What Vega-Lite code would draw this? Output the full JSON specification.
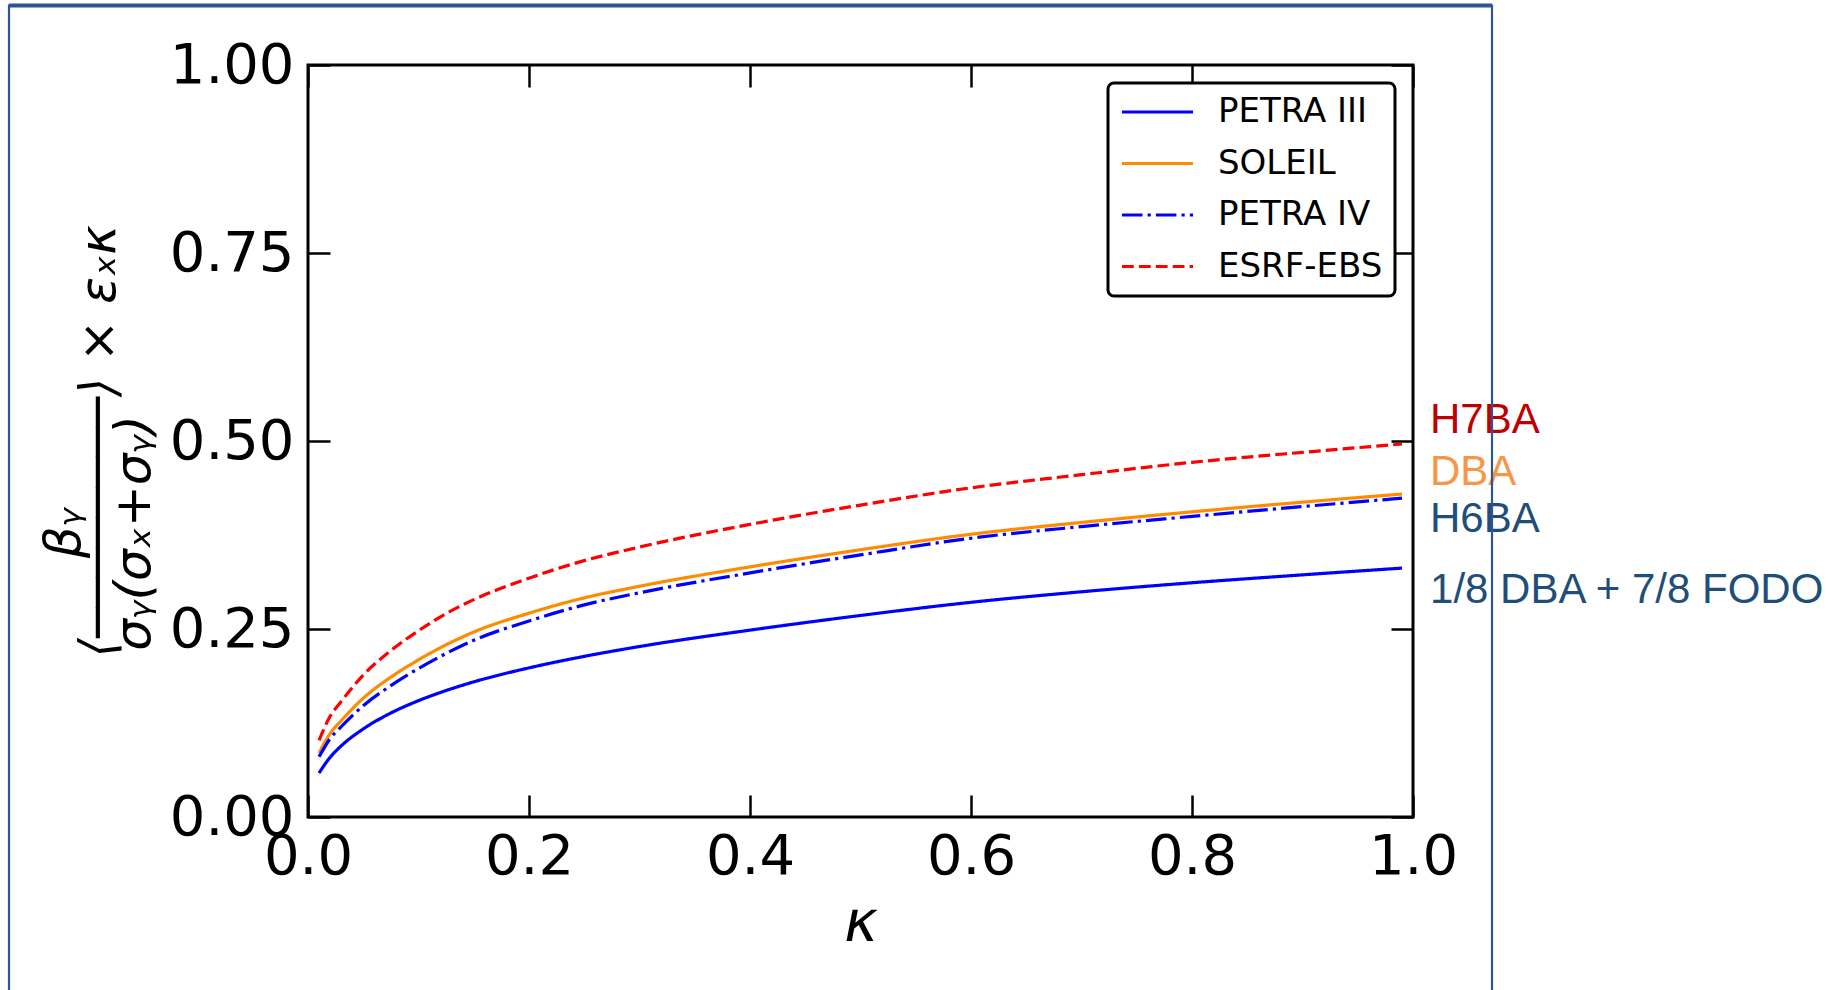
{
  "$schema": "https://vega.github.io/schema/vega-lite/v6.json",
  "width": 1105,
  "height": 752,
  "autosize": {"type": "none"},
  "padding": {"left": 308, "top": 65, "right": 430, "bottom": 173},
  "background": "white",
  "config": {
    "view": {"stroke": "black", "strokeWidth": 3},
    "font": "DejaVu Sans",
    "axis": {
      "domain": false,
      "grid": false,
      "tickColor": "black",
      "tickWidth": 2.5,
      "tickSize": -22,
      "labelFont": "DejaVu Sans",
      "labelFontSize": 56,
      "labelColor": "black",
      "labelFlush": false,
      "labelOverlap": false,
      "titleFont": "DejaVu Sans",
      "titleFontSize": 57,
      "titleColor": "black",
      "titleFontWeight": "normal",
      "titleFontStyle": "italic"
    },
    "legend": {
      "orient": "top-right",
      "offset": 18,
      "labelFont": "DejaVu Sans",
      "labelFontSize": 34,
      "labelColor": "black",
      "labelLimit": 400,
      "symbolType": "stroke",
      "symbolSize": 5041,
      "symbolStrokeWidth": 3.2,
      "labelOffset": 23,
      "padding": 12,
      "clipHeight": 34,
      "rowPadding": 17.5,
      "strokeColor": "black",
      "strokeWidth": 3,
      "cornerRadius": 6,
      "fillColor": "white"
    }
  },
  "datasets": {
    "curves": [
      {"series": "PETRA III", "k": 0.01, "v": 0.0585},
      {"series": "PETRA III", "k": 0.02, "v": 0.0794},
      {"series": "PETRA III", "k": 0.03, "v": 0.0945},
      {"series": "PETRA III", "k": 0.05, "v": 0.1171},
      {"series": "PETRA III", "k": 0.075, "v": 0.1383},
      {"series": "PETRA III", "k": 0.1, "v": 0.1547},
      {"series": "PETRA III", "k": 0.125, "v": 0.1682},
      {"series": "PETRA III", "k": 0.15, "v": 0.1797},
      {"series": "PETRA III", "k": 0.2, "v": 0.1983},
      {"series": "PETRA III", "k": 0.25, "v": 0.2136},
      {"series": "PETRA III", "k": 0.3, "v": 0.2267},
      {"series": "PETRA III", "k": 0.4, "v": 0.2485},
      {"series": "PETRA III", "k": 0.5, "v": 0.2680},
      {"series": "PETRA III", "k": 0.6, "v": 0.2855},
      {"series": "PETRA III", "k": 0.7, "v": 0.2995},
      {"series": "PETRA III", "k": 0.8, "v": 0.3115},
      {"series": "PETRA III", "k": 0.9, "v": 0.3220},
      {"series": "PETRA III", "k": 0.99, "v": 0.3310},
      {"series": "SOLEIL", "k": 0.01, "v": 0.0850},
      {"series": "SOLEIL", "k": 0.02, "v": 0.1110},
      {"series": "SOLEIL", "k": 0.03, "v": 0.1280},
      {"series": "SOLEIL", "k": 0.05, "v": 0.1580},
      {"series": "SOLEIL", "k": 0.075, "v": 0.1860},
      {"series": "SOLEIL", "k": 0.1, "v": 0.2090},
      {"series": "SOLEIL", "k": 0.125, "v": 0.2290},
      {"series": "SOLEIL", "k": 0.15, "v": 0.2460},
      {"series": "SOLEIL", "k": 0.2, "v": 0.2710},
      {"series": "SOLEIL", "k": 0.25, "v": 0.2914},
      {"series": "SOLEIL", "k": 0.3, "v": 0.3068},
      {"series": "SOLEIL", "k": 0.4, "v": 0.3326},
      {"series": "SOLEIL", "k": 0.5, "v": 0.3554},
      {"series": "SOLEIL", "k": 0.6, "v": 0.3760},
      {"series": "SOLEIL", "k": 0.7, "v": 0.3917},
      {"series": "SOLEIL", "k": 0.8, "v": 0.4058},
      {"series": "SOLEIL", "k": 0.9, "v": 0.4187},
      {"series": "SOLEIL", "k": 0.99, "v": 0.4295},
      {"series": "PETRA IV", "k": 0.01, "v": 0.0800},
      {"series": "PETRA IV", "k": 0.02, "v": 0.1042},
      {"series": "PETRA IV", "k": 0.03, "v": 0.1200},
      {"series": "PETRA IV", "k": 0.05, "v": 0.1480},
      {"series": "PETRA IV", "k": 0.075, "v": 0.1748},
      {"series": "PETRA IV", "k": 0.1, "v": 0.1975},
      {"series": "PETRA IV", "k": 0.125, "v": 0.2175},
      {"series": "PETRA IV", "k": 0.15, "v": 0.2350},
      {"series": "PETRA IV", "k": 0.2, "v": 0.2607},
      {"series": "PETRA IV", "k": 0.25, "v": 0.2821},
      {"series": "PETRA IV", "k": 0.3, "v": 0.2982},
      {"series": "PETRA IV", "k": 0.4, "v": 0.3246},
      {"series": "PETRA IV", "k": 0.5, "v": 0.3486},
      {"series": "PETRA IV", "k": 0.6, "v": 0.3707},
      {"series": "PETRA IV", "k": 0.7, "v": 0.3862},
      {"series": "PETRA IV", "k": 0.8, "v": 0.3997},
      {"series": "PETRA IV", "k": 0.9, "v": 0.4128},
      {"series": "PETRA IV", "k": 0.99, "v": 0.4240},
      {"series": "ESRF-EBS", "k": 0.01, "v": 0.1020},
      {"series": "ESRF-EBS", "k": 0.02, "v": 0.1339},
      {"series": "ESRF-EBS", "k": 0.03, "v": 0.1536},
      {"series": "ESRF-EBS", "k": 0.05, "v": 0.1888},
      {"series": "ESRF-EBS", "k": 0.075, "v": 0.2213},
      {"series": "ESRF-EBS", "k": 0.1, "v": 0.2477},
      {"series": "ESRF-EBS", "k": 0.125, "v": 0.2705},
      {"series": "ESRF-EBS", "k": 0.15, "v": 0.2890},
      {"series": "ESRF-EBS", "k": 0.2, "v": 0.3176},
      {"series": "ESRF-EBS", "k": 0.25, "v": 0.3409},
      {"series": "ESRF-EBS", "k": 0.3, "v": 0.3590},
      {"series": "ESRF-EBS", "k": 0.4, "v": 0.3891},
      {"series": "ESRF-EBS", "k": 0.5, "v": 0.4148},
      {"series": "ESRF-EBS", "k": 0.6, "v": 0.4377},
      {"series": "ESRF-EBS", "k": 0.7, "v": 0.4552},
      {"series": "ESRF-EBS", "k": 0.8, "v": 0.4716},
      {"series": "ESRF-EBS", "k": 0.9, "v": 0.4849},
      {"series": "ESRF-EBS", "k": 0.99, "v": 0.4960}
    ],
    "lattice": [
      {"lattice": "H7BA", "k": 1.0154, "v": 0.5106},
      {"lattice": "DBA", "k": 1.0154, "v": 0.4415},
      {"lattice": "H6BA", "k": 1.0154, "v": 0.379},
      {"lattice": "1/8 DBA + 7/8 FODO", "k": 1.0154, "v": 0.2846}
    ],
    "frame": [
      {"side": "slide frame", "x1": -0.2706, "x2": 1.0715, "y1": 1.0791, "y2": -0.3}
    ]
  },
  "layer": [
    {
      "mark": {"type": "rule", "color": "black", "strokeWidth": 3, "strokeDash": [3, 5.5]},
      "encoding": {
        "y": {"datum": 0.25, "type": "quantitative", "scale": {"domain": [0, 1]}, "axis": null}
      }
    },
    {
      "data": {"name": "curves"},
      "mark": {"type": "line", "strokeWidth": 3.2, "interpolate": "monotone"},
      "encoding": {
        "x": {
          "field": "k", "type": "quantitative",
          "scale": {"domain": [0, 1]},
          "axis": {"orient": "bottom", "values": [0, 0.2, 0.4, 0.6, 0.8, 1.0], "format": ".1f", "labelPadding": 34, "titlePadding": 11, "title": "κ"}
        },
        "y": {
          "field": "v", "type": "quantitative",
          "scale": {"domain": [0, 1]},
          "axis": {
            "orient": "left", "values": [0, 0.25, 0.5, 0.75, 1.0], "format": ".2f", "labelPadding": 36, "titlePadding": 10,
            "titleFontSize": 50, "titleLineHeight": 35,
            "title": ["βᵧ\u2800\u2800\u2800\u2800\u2800", "⟨────────⟩ × εₓκ", "σᵧ(σₓ+σᵧ)\u2800\u2800\u2800\u2800\u2800"]
          }
        },
        "color": {
          "field": "series", "type": "nominal",
          "scale": {"domain": ["PETRA III", "SOLEIL", "PETRA IV", "ESRF-EBS"], "range": ["#0000ff", "#ff8c00", "#0000ff", "#ff0000"]},
          "legend": {"title": null}
        },
        "strokeDash": {
          "field": "series", "type": "nominal",
          "scale": {"domain": ["PETRA III", "SOLEIL", "PETRA IV", "ESRF-EBS"], "range": [[1, 0], [1, 0], [20.5, 5.1, 3.2, 5.1], [11.8, 5.1]]},
          "legend": {"title": null}
        }
      }
    },
    {
      "data": {"name": "curves"},
      "mark": {"type": "point", "opacity": 0},
      "encoding": {
        "x": {
          "field": "k", "type": "quantitative",
          "scale": {"domain": [0, 1]},
          "axis": {"orient": "top", "values": [0, 0.2, 0.4, 0.6, 0.8, 1.0], "labels": false, "title": null}
        },
        "y": {
          "field": "v", "type": "quantitative",
          "scale": {"domain": [0, 1]},
          "axis": {"orient": "right", "values": [0, 0.25, 0.5, 0.75, 1.0], "labels": false, "title": null}
        }
      }
    },
    {
      "data": {"name": "lattice"},
      "mark": {"type": "text", "align": "left", "baseline": "alphabetic", "font": "Liberation Sans", "fontSize": 42},
      "encoding": {
        "x": {"field": "k", "type": "quantitative", "scale": {"domain": [0, 1]}, "axis": null},
        "y": {"field": "v", "type": "quantitative", "scale": {"domain": [0, 1]}, "axis": null},
        "text": {"field": "lattice"},
        "fill": {
          "field": "lattice", "type": "nominal",
          "scale": {"domain": ["H7BA", "DBA", "H6BA", "1/8 DBA + 7/8 FODO"], "range": ["#c00000", "#f79646", "#1f4e79", "#1f4e79"]},
          "legend": null
        }
      }
    },
    {
      "data": {"name": "frame"},
      "mark": {"type": "rect", "filled": false, "stroke": "#2f5597", "strokeWidth": 2.2, "clip": false},
      "encoding": {
        "x": {"field": "x1", "type": "quantitative", "scale": {"domain": [0, 1]}, "axis": null},
        "x2": {"field": "x2"},
        "y": {"field": "y1", "type": "quantitative", "scale": {"domain": [0, 1]}, "axis": null},
        "y2": {"field": "y2"}
      }
    },
    {
      "data": {"name": "frame"},
      "mark": {"type": "rule", "stroke": "#2f5597", "strokeWidth": 4, "clip": false},
      "encoding": {
        "x": {"field": "x1", "type": "quantitative", "scale": {"domain": [0, 1]}, "axis": null},
        "x2": {"field": "x2"},
        "y": {"field": "y1", "type": "quantitative", "scale": {"domain": [0, 1]}, "axis": null}
      }
    }
  ],
  "resolve": {
    "axis": {"x": "independent", "y": "independent"}
  }
}
